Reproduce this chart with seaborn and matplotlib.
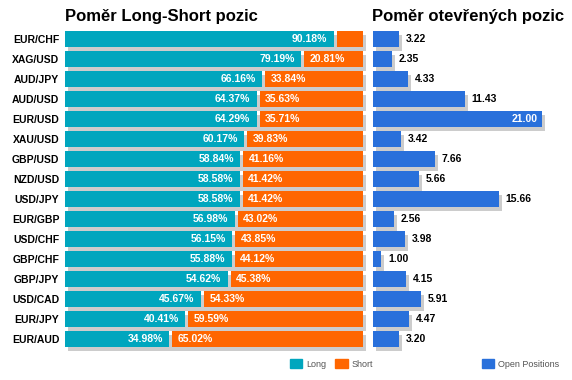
import matplotlib
matplotlib.use("Agg")
import matplotlib.pyplot as plt
import matplotlib.transforms as mtransforms
from matplotlib.patches import Patch
import seaborn as sns

# ─── Data ────────────────────────────────────────────────────────────────────

pairs = ["EUR/CHF", "XAG/USD", "AUD/JPY", "AUD/USD", "EUR/USD", "XAU/USD",
         "GBP/USD", "NZD/USD", "USD/JPY", "EUR/GBP", "USD/CHF", "GBP/CHF",
         "GBP/JPY", "USD/CAD", "EUR/JPY", "EUR/AUD"]
long_pct = [90.18, 79.19, 66.16, 64.37, 64.29, 60.17, 58.84, 58.58, 58.58,
            56.98, 56.15, 55.88, 54.62, 45.67, 40.41, 34.98]
short_pct = [9.82, 20.81, 33.84, 35.63, 35.71, 39.83, 41.16, 41.42, 41.42,
             43.02, 43.85, 44.12, 45.38, 54.33, 59.59, 65.02]
open_pos = [3.22, 2.35, 4.33, 11.43, 21.00, 3.42, 7.66, 5.66, 15.66, 2.56,
            3.98, 1.00, 4.15, 5.91, 4.47, 3.20]

TEAL = "#00A6BE"
ORANGE = "#FF6600"
BLUE = "#2970DB"
SHADOW = "#CCCCCC"

sns.set_style("white")
plt.rcParams["font.family"] = ["Liberation Sans", "DejaVu Sans"]

fig = plt.figure(figsize=(5.72, 3.80), dpi=100)
ax_ls = fig.add_axes([65 / 572, 31 / 380, 298 / 572, 320 / 380])
ax_op = fig.add_axes([373 / 572, 31 / 380, 169 / 572, 320 / 380])

shift = mtransforms.ScaledTranslation(3 / 100, -4 / 100, fig.dpi_scale_trans)
pos = list(range(len(pairs)))
n = len(pairs)

# ─── Long / Short ratio ──────────────────────────────────────────────────────

sns.barplot(x=long_pct, y=pairs, orient="h", color=TEAL, saturation=1,
            width=0.8, ax=ax_ls, zorder=2, linewidth=0, edgecolor="none")
ax_ls.barh(pos, [100] * n, height=0.8, color=SHADOW, zorder=0.5,
           linewidth=0, transform=ax_ls.transData + shift, clip_on=False)
gap = 1.0
short_left = [lv + gap for lv in long_pct]
ax_ls.barh(pos, [100 - s for s in short_left], left=short_left, height=0.8,
           color=ORANGE, zorder=2, linewidth=0)

for i, (lv, sv) in enumerate(zip(long_pct, short_pct)):
    ax_ls.text(lv - 2.2, i, f"{lv:.2f}%", ha="right", va="center",
               color="white", fontsize=7.5, fontweight="bold", zorder=3)
    if sv > 15:
        ax_ls.text(lv + gap + 1.8, i, f"{sv:.2f}%", ha="left", va="center",
                   color="white", fontsize=7.5, fontweight="bold", zorder=3)

ax_ls.set_xlim(0, 100)
ax_ls.set_ylim(n - 0.5, -0.5)
ax_ls.set_xlabel("")
ax_ls.set_ylabel("")
ax_ls.set_xticks([])
ax_ls.tick_params(axis="y", length=0, pad=4)
for lab in ax_ls.get_yticklabels():
    lab.set_fontweight("bold")
    lab.set_fontsize(7.5)
    lab.set_color("black")
sns.despine(ax=ax_ls, left=True, bottom=True)

# ─── Open positions ──────────────────────────────────────────────────────────

sns.barplot(x=open_pos, y=pairs, orient="h", color=BLUE, saturation=1,
            width=0.8, ax=ax_op, zorder=2, linewidth=0, edgecolor="none")
ax_op.barh(pos, open_pos, height=0.8, color=SHADOW, zorder=0.5, linewidth=0,
           transform=ax_op.transData + shift, clip_on=False)
top = max(open_pos)
for i, v in enumerate(open_pos):
    if v == top:
        ax_op.text(v - 0.5, i, f"{v:.2f}", ha="right", va="center",
                   color="white", fontsize=7.5, fontweight="bold", zorder=3)
    else:
        ax_op.text(v + 0.85, i, f"{v:.2f}", ha="left", va="center",
                   color="black", fontsize=7.5, fontweight="bold", zorder=3,
                   clip_on=False)

ax_op.set_xlim(0, 21)
ax_op.set_ylim(n - 0.5, -0.5)
ax_op.set_xlabel("")
ax_op.set_ylabel("")
ax_op.set_xticks([])
ax_op.set_yticks([])
sns.despine(ax=ax_op, left=True, bottom=True)

# ─── Titles and legends ──────────────────────────────────────────────────────

fig.text(65 / 572, 1 - 17 / 380, "Poměr Long-Short pozic", ha="left",
         va="center", fontsize=12, fontweight="bold", color="black")
fig.text(372 / 572, 1 - 17 / 380, "Poměr otevřených pozic", ha="left",
         va="center", fontsize=12, fontweight="bold", color="black")

leg_kw = dict(frameon=False, fontsize=6.5, handlelength=1.35,
              handleheight=1.1, handletextpad=0.45, borderpad=0,
              borderaxespad=0, columnspacing=1.0, labelcolor="#555555",
              loc="center left")
fig.legend(handles=[Patch(color=TEAL, label="Long"),
                    Patch(color=ORANGE, label="Short")],
           ncol=2, bbox_to_anchor=(290 / 572, 1 - 364 / 380), **leg_kw)
fig.legend(handles=[Patch(color=BLUE, label="Open Positions")],
           bbox_to_anchor=(482 / 572, 1 - 364 / 380), **leg_kw)

fig.savefig("out.png", dpi=100)
